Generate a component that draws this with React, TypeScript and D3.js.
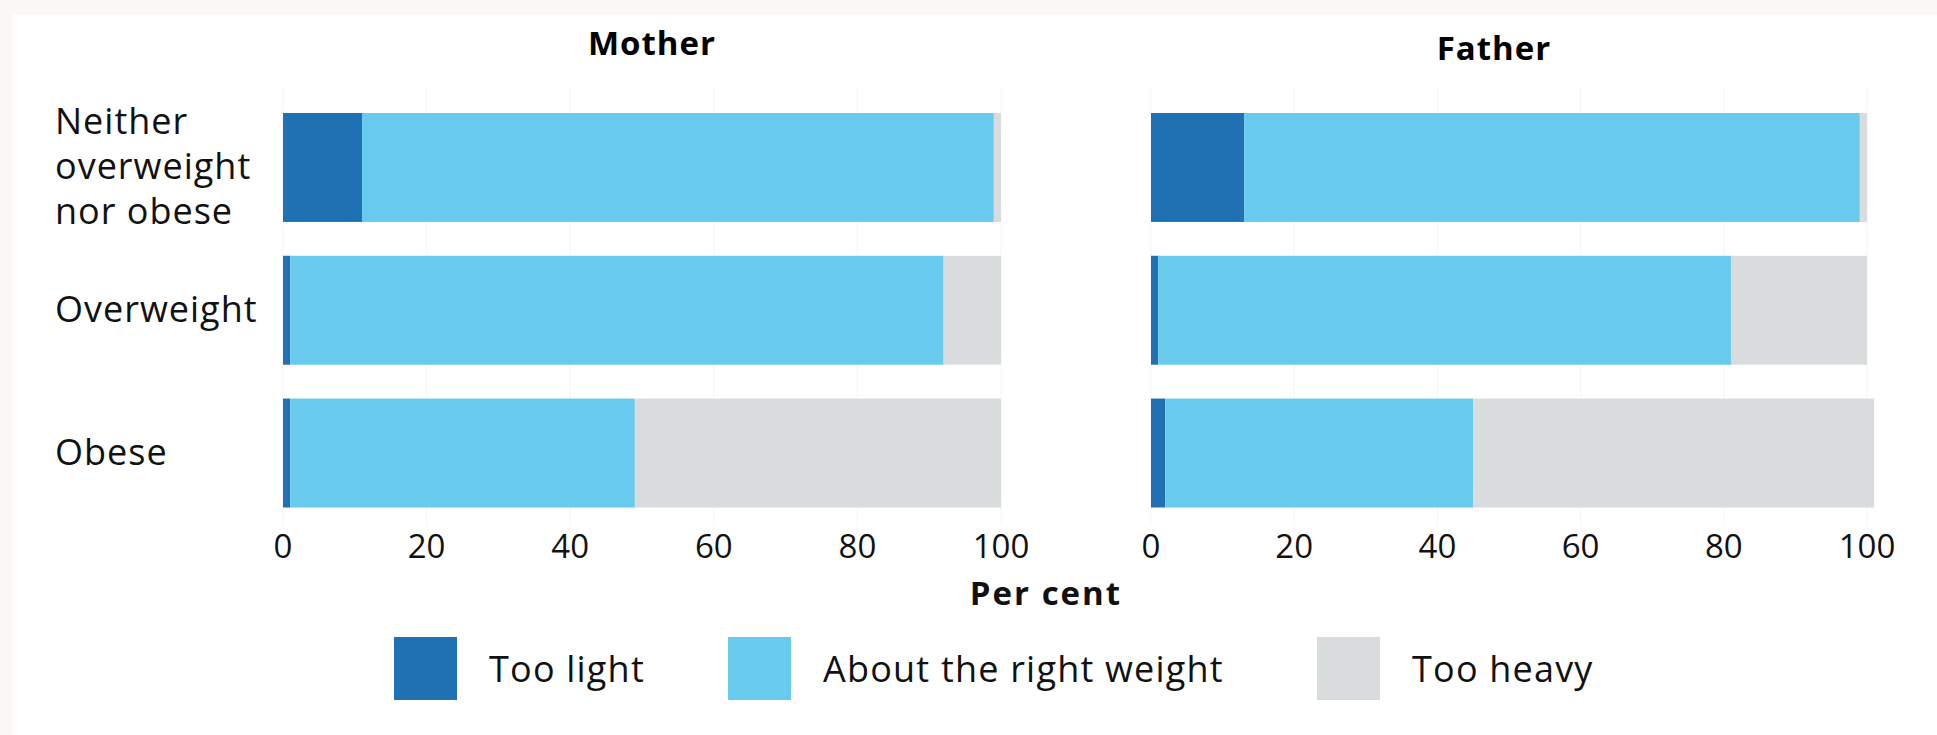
import React from "react";
import * as d3 from "d3";

const categories = ["Neither overweight nor obese", "Overweight", "Obese"];
const categoryLines = [["Neither", "overweight", "nor obese"], ["Overweight"], ["Obese"]];
const seriesNames = ["Too light", "About the right weight", "Too heavy"];
const seriesColors = ["#2070b4", "#68caec", "#d8dcdd"];
const motherTooLight = [11, 1, 1];
const motherRight = [88, 91, 48];
const motherHeavy = [1, 8, 51];
const fatherTooLight = [13, 1, 2];
const fatherRight = [86, 80, 43];
const fatherHeavy = [1, 19, 56];
const tickValues = [0, 20, 40, 60, 80, 100];

const W = 1937;
const H = 735;
const FONT = "'Open Sans', sans-serif";

function buildRows(light: number[], right: number[], heavy: number[]) {
  return categories.map((c, i) => ({
    cat: c,
    [seriesNames[0]]: light[i],
    [seriesNames[1]]: right[i],
    [seriesNames[2]]: heavy[i],
  }));
}

const y = d3.scaleBand<string>().domain(categories).range([113, 507.5]).paddingInner(0.237).paddingOuter(0);

function Panel({ title, titleX, titleY, x0, x1, rows }: any) {
  const x = d3.scaleLinear().domain([0, 100]).range([x0, x1]);
  const stacked = d3.stack<any>().keys(seriesNames)(rows);
  return (
    <g>
      <text x={titleX} y={titleY} textAnchor="middle" fontWeight="bold" fontSize={33} letterSpacing={1} fontFamily={FONT}>
        {title}
      </text>
      {tickValues.map((t) => (
        <line key={"g" + t} x1={x(t)} x2={x(t)} y1={88} y2={526} stroke="#f5f5f5" strokeWidth={1} />
      ))}
      {stacked.map((s, si) => (
        <g key={s.key} fill={seriesColors[si]}>
          {s.map((d: any) => (
            <rect
              key={d.data.cat}
              x={x(d[0])}
              y={y(d.data.cat)}
              width={Math.max(0, x(d[1]) - x(d[0]))}
              height={y.bandwidth()}
            />
          ))}
        </g>
      ))}
      {tickValues.map((t) => (
        <text key={"t" + t} x={x(t)} y={558} textAnchor="middle" fontSize={33} fontFamily={FONT} fill="#111">
          {t}
        </text>
      ))}
    </g>
  );
}

export default function App() {
  const motherRows = buildRows(motherTooLight, motherRight, motherHeavy);
  const fatherRows = buildRows(fatherTooLight, fatherRight, fatherHeavy);
  const legendX = [394, 728, 1317];
  return (
    <div style={{ position: "absolute", left: 0, top: 0 }}>
      <svg width={W} height={H} style={{ display: "block" }}>
        <rect x={0} y={0} width={W} height={H} fill="#f9f8f6" />
        <rect x={13} y={14} width={W - 13} height={H - 14} fill="#ffffff" />
        {categoryLines.map((lines, i) => {
          const c = y(categories[i])! + y.bandwidth() / 2;
          const startY = c - ((lines.length - 1) * 45) / 2 + 12;
          return (
            <text key={i} fontSize={36} letterSpacing={1} fontFamily={FONT} fill="#111">
              {lines.map((l, j) => (
                <tspan key={j} x={55} y={startY + j * 45}>
                  {l}
                </tspan>
              ))}
            </text>
          );
        })}
        <Panel title="Mother" titleX={652} titleY={55} x0={283} x1={1001} rows={motherRows} />
        <Panel title="Father" titleX={1494} titleY={60} x0={1151} x1={1867} rows={fatherRows} />
        <text x={1046} y={605} textAnchor="middle" fontWeight="bold" fontSize={33} letterSpacing={2} fontFamily={FONT} fill="#111">
          Per cent
        </text>
        {seriesNames.map((s, i) => (
          <g key={s}>
            <rect x={legendX[i]} y={637} width={63} height={63} fill={seriesColors[i]} />
            <text x={legendX[i] + 95} y={682} fontSize={36} letterSpacing={1.2} fontFamily={FONT} fill="#111">
              {s}
            </text>
          </g>
        ))}
      </svg>
    </div>
  );
}
